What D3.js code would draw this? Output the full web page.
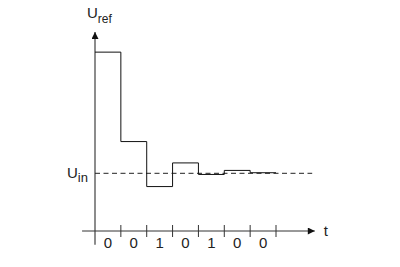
<!DOCTYPE html>
<html>
<head>
<meta charset="utf-8">
<script src="https://cdn.jsdelivr.net/npm/d3@7"></script>
<style>
  body { margin: 0; background: #fff; }
  text { font-family: "Liberation Sans", Arial, sans-serif; fill: #222; }
</style>
</head>
<body>
<div id="Container"></div>
<script>
// bit decisions per clock step
var bits = ["0", "0", "1", "0", "1", "0", "0"];
// reference voltage in each step, in units of U_in
var uref = [3.1, 1.55, 0.77, 1.18, 0.98, 1.05, 1.01];
var uin = 1;

var w = 400, h = 267;
var canvas = d3.select("#Container").append("svg")
    .attr("width", w)
    .attr("height", h);

var x = d3.scaleLinear().domain([0, 7]).range([95, 276]);
var y = d3.scaleLinear().domain([0, uin]).range([231, 173.3]);

var defs = canvas.append("defs");
defs.append("marker")
    .attr("id", "arr")
    .attr("viewBox", "0 0 10 10")
    .attr("refX", 10).attr("refY", 5)
    .attr("markerWidth", 10).attr("markerHeight", 7)
    .attr("markerUnits", "userSpaceOnUse")
    .attr("orient", "auto")
    .append("path")
    .attr("d", "M0,0 L10,5 L0,10 Z")
    .attr("fill", "#111");

// y axis
canvas.append("line")
    .attr("x1", x(0)).attr("y1", y(-0.24))
    .attr("x2", x(0)).attr("y2", y(3.45))
    .attr("stroke", "#666").attr("stroke-width", 1.5)
    .attr("marker-end", "url(#arr)");

// x axis
canvas.append("line")
    .attr("x1", x(-0.5)).attr("y1", y(0))
    .attr("x2", x(8.5)).attr("y2", y(0))
    .attr("stroke", "#333").attr("stroke-width", 1)
    .attr("marker-end", "url(#arr)");

// ticks
canvas.selectAll("tick").data(d3.range(1, 8))
    .enter()
    .append("line")
        .attr("x1", function(d) { return x(d); })
        .attr("x2", function(d) { return x(d); })
        .attr("y1", y(0) - 6)
        .attr("y2", y(0) + 6)
        .attr("stroke", "#333").attr("stroke-width", 1);

// bit labels
canvas.selectAll("bitlabel").data(bits)
    .enter()
    .append("text")
        .attr("x", function(d, i) { return x(i + 0.5); })
        .attr("y", y(0) + 17)
        .attr("text-anchor", "middle")
        .attr("font-size", 15)
        .attr("fill", "#444")
        .text(function(d) { return d; });

// U_in dashed level
canvas.append("line")
    .attr("x1", x(0)).attr("y1", y(uin))
    .attr("x2", x(8.4)).attr("y2", y(uin))
    .attr("stroke", "#222").attr("stroke-width", 1)
    .attr("stroke-dasharray", "5,3.5");

// stepped U_ref
var pts = [];
uref.forEach(function(v, i) {
    pts.push([i, v]);
    pts.push([i + 1, v]);
});
var line = d3.line()
    .x(function(d) { return x(d[0]); })
    .y(function(d) { return y(d[1]); });
canvas.append("path")
    .attr("d", line(pts))
    .attr("fill", "none")
    .attr("stroke", "#111")
    .attr("stroke-width", 1);

// labels
var lab = canvas.append("text").attr("x", 87).attr("y", 18).attr("font-size", 15);
lab.append("tspan").text("U");
lab.append("tspan").attr("dy", 5).attr("font-size", 12).text("ref");

var lab2 = canvas.append("text").attr("x", 67).attr("y", 178).attr("font-size", 15);
lab2.append("tspan").text("U");
lab2.append("tspan").attr("dy", 4).attr("font-size", 13).text("in");

canvas.append("text")
    .attr("x", x(8.5) + 9).attr("y", y(0) + 5)
    .attr("font-size", 15)
    .text("t");
</script>
</body>
</html>
